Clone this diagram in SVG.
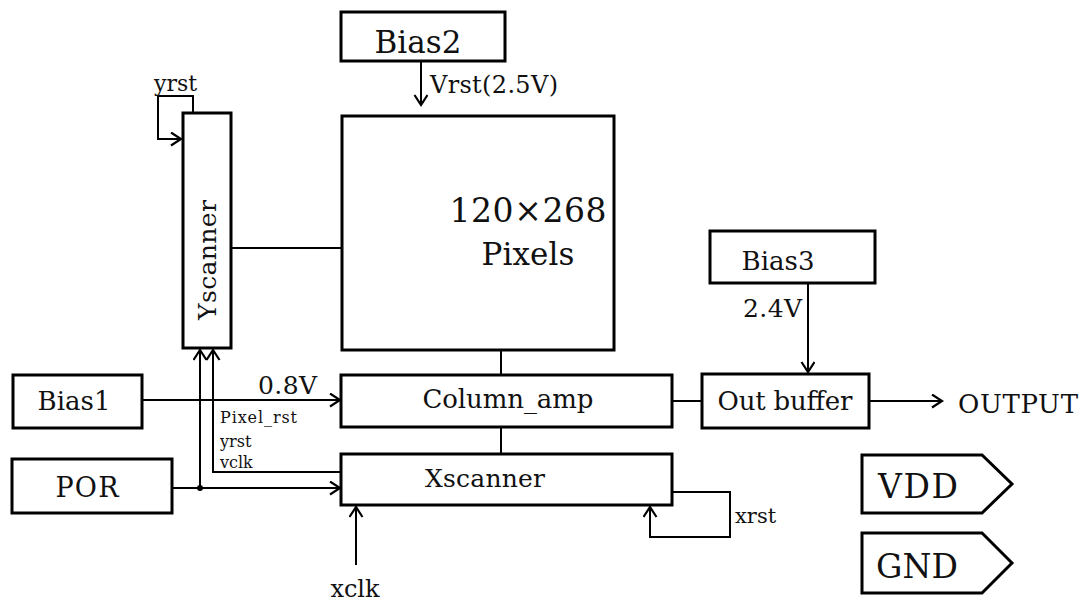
<svg xmlns="http://www.w3.org/2000/svg" width="1088" height="605" viewBox="0 0 1088 605">
<style>
.box{fill:#fff;stroke:#000;stroke-width:3}
.ln{fill:none;stroke:#000;stroke-width:2}
text{font-family:"DejaVu Serif","Liberation Serif",serif;fill:#111}
.c{text-anchor:middle}
</style>
<defs>
<marker id="ah" markerUnits="userSpaceOnUse" markerWidth="14" markerHeight="16" refX="11" refY="7" orient="auto" viewBox="0 0 14 16">
<path d="M1,0.5 L11,7 L1,13.5" fill="none" stroke="#000" stroke-width="2.2"/>
</marker>
</defs>
<rect width="1088" height="605" fill="#fff"/>
<g id="connectors">
<line class="ln" x1="421" y1="61" x2="421" y2="105" marker-end="url(#ah)"/>
<line class="ln" x1="808" y1="283" x2="808" y2="372" marker-end="url(#ah)"/>
<line class="ln" x1="142" y1="400" x2="340" y2="400" marker-end="url(#ah)"/>
<line class="ln" x1="172" y1="488" x2="340" y2="488" marker-end="url(#ah)"/>
<line class="ln" x1="200" y1="488" x2="200" y2="350" marker-end="url(#ah)"/>
<polyline class="ln" points="341,472 213,472 213,350" marker-end="url(#ah)"/>
<line class="ln" x1="356" y1="565" x2="356" y2="507" marker-end="url(#ah)"/>
<polyline class="ln" points="672,492 730,492 730,537 650,537 650,507" marker-end="url(#ah)"/>
<polyline class="ln" points="193,113 193,96 158,96 158,139 181,139" marker-end="url(#ah)"/>
<line class="ln" x1="869" y1="401" x2="942" y2="401" marker-end="url(#ah)"/>
<line class="ln" x1="231" y1="248" x2="341" y2="248"/>
<line class="ln" x1="501" y1="350" x2="501" y2="375"/>
<line class="ln" x1="501" y1="427" x2="501" y2="454"/>
<line class="ln" x1="672" y1="401" x2="702" y2="401"/>
<circle cx="200" cy="488" r="3" fill="#000"/>
<text x="430" y="93" font-size="24" textLength="128">Vrst(2.5V)</text>
<text x="743" y="317" font-size="25" textLength="59">2.4V</text>
<text x="258" y="394" font-size="25" textLength="59">0.8V</text>
<text x="220" y="423" font-size="16" textLength="77">Pixel_rst</text>
<text x="220" y="447" font-size="16">yrst</text>
<text x="220" y="468" font-size="16">vclk</text>
<text x="154" y="91" font-size="22">yrst</text>
<text x="735" y="523" font-size="21">xrst</text>
<text x="355" y="597" font-size="24" class="c">xclk</text>
<text x="958" y="413" font-size="26" textLength="120">OUTPUT</text>
</g>
<g id="bias2">
<rect class="box" x="341" y="12" width="164" height="49"/>
<text x="418" y="53" font-size="31" class="c">Bias2</text>
</g>
<g id="pixels">
<rect class="box" x="342" y="116" width="272" height="234"/>
<text x="528" y="222" font-size="33" class="c" textLength="157">120×268</text>
<text x="528" y="265" font-size="31" class="c" textLength="93">Pixels</text>
</g>
<g id="yscanner">
<rect class="box" x="183" y="113" width="48" height="235"/>
<text transform="translate(216,260) rotate(-90)" font-size="25" class="c" textLength="120">Yscanner</text>
</g>
<g id="bias1">
<rect class="box" x="13" y="375" width="129" height="53"/>
<text x="74" y="410" font-size="26" class="c" textLength="73">Bias1</text>
</g>
<g id="por">
<rect class="box" x="12" y="459" width="160" height="54"/>
<text x="87" y="497" font-size="27" class="c" textLength="63">POR</text>
</g>
<g id="column_amp">
<rect class="box" x="341" y="375" width="331" height="52"/>
<text x="508" y="408" font-size="26" class="c" textLength="171">Column_amp</text>
</g>
<g id="xscanner">
<rect class="box" x="341" y="454" width="331" height="51"/>
<text x="485" y="487" font-size="25" class="c" textLength="120">Xscanner</text>
</g>
<g id="bias3">
<rect class="box" x="710" y="231" width="165" height="52"/>
<text x="778" y="270" font-size="26" class="c" textLength="73">Bias3</text>
</g>
<g id="out_buffer">
<rect class="box" x="702" y="374" width="167" height="54"/>
<text x="785" y="410" font-size="26" class="c" textLength="135">Out buffer</text>
</g>
<g id="vdd">
<polygon class="box" points="862,455 982,455 1012,484 982,513 862,513"/>
<text x="878" y="498" font-size="33" textLength="80">VDD</text>
</g>
<g id="gnd">
<polygon class="box" points="862,533 982,533 1012,563 982,593 862,593"/>
<text x="876" y="578" font-size="33" textLength="82">GND</text>
</g>
</svg>
